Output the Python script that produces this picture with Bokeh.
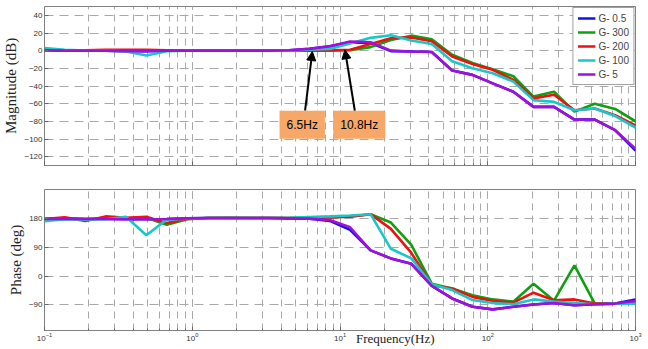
from bokeh.plotting import figure
from bokeh.layouts import column
from bokeh.models import Range1d, FixedTicker, Label, Arrow, NormalHead, Legend, LegendItem
from bokeh.embed import file_html
from bokeh.resources import INLINE

freqs = [0.1, 0.137, 0.189, 0.259, 0.356, 0.489, 0.672, 0.924, 1.27, 1.74,
         2.39, 3.29, 4.52, 6.21, 8.53, 11.7, 16.1, 22.1, 30.4, 41.8,
         57.4, 78.8, 108, 149, 204, 281, 386, 530, 728, 1000]

series_names = ["G- 0.5", "G- 300", "G- 200", "G- 100", "G- 5"]
series_colors = ["#1010F0", "#0EA00E", "#F01010", "#18C8C8", "#A010D8"]

mag_g05 = [0.5, 0, 0, 0, -0.5, -0.5, 0, 0, 0, 0, 0, 0, 0.5, 2, 5, 9.5, 8.5, -0.5, -1, -1.5,
           -22.5, -27.4, -37, -46.5, -63.6, -63.6, -78, -78, -90, -113]
mag_g300 = [1, 0.5, 0, 0, 0.5, 0.5, 0, 0, 0, 0, 0, 0, 0, 0, 0, 0.5, 4, 12, 17, 13,
            -4.6, -14, -21, -29, -52, -46.5, -69, -60, -66, -80]
mag_g200 = [1, 0.5, 0.5, 1, 1, 1, 0.5, 0, 0, 0, 0, 0, 0, 0, 0.5, 1, 7.5, 14, 15, 10.6,
            -6.5, -15, -21.7, -33, -54, -50, -67.4, -65.5, -73, -84.6]
mag_g100 = [3, 1, 0, 0, -1, -5.5, -0.5, 0, 0, 0, 0, 0, 0, 1, 2, 8, 14.5, 17.5, 11.5, 7.5,
            -12, -20, -25.5, -35, -56, -58, -67.4, -65.5, -74, -87]
mag_g5 = [0.5, 0, 0, 0, -0.5, -0.5, 0, 0, 0, 0, 0, 0, 0.5, 2, 5, 10.3, 9.5, 0, -1, -1.5,
          -22.5, -27.4, -37, -46.5, -63.6, -63.6, -78, -78, -90, -111]

ph_g05 = [178, 179, 178, 178, 177, 177, 178, 180, 181, 181, 181, 181, 180, 179, 172, 144, 80, 55, 38, -31,
          -70, -96, -104, -96, -89, -84, -91, -88, -86, -73]
ph_g300 = [178, 180, 178, 181, 180, 182, 160, 177, 181, 182, 181, 181, 181, 182, 184, 186, 193, 167, 97, -24,
           -39, -60, -73, -80, -24, -77, 33, -86, -86, -84]
ph_g200 = [178, 183, 172, 186, 182, 185, 165, 178, 181, 181, 181, 181, 181, 182, 183, 185, 193, 147, 72, -29,
           -39, -65, -78, -83, -52, -75.5, -73, -86, -86, -80]
ph_g100 = [171, 177, 176, 177, 185, 127, 176, 179, 181, 181, 181, 181, 182, 184, 186, 189, 193, 85, 55, -26,
           -44, -75, -84, -88, -73, -80, -84, -88, -86, -86]
ph_g5 = [178, 179, 178, 178, 177, 177, 178, 180, 181, 181, 181, 181, 180, 179, 175, 152, 80, 55, 38, -31,
         -70, -96, -104, -96, -89, -84, -91, -88, -86, -78]

mag_series = [mag_g05, mag_g300, mag_g200, mag_g100, mag_g5]
ph_series = [ph_g05, ph_g300, ph_g200, ph_g100, ph_g5]

mag_ticks = [40, 20, 0, -20, -40, -60, -80, -100, -120]
ph_ticks = [180, 90, 0, -90]

ann_labels = ["6.5Hz", "10.8Hz"]
ann_freqs = [6.5, 10.8]

GRID = "#a8a8a8"


def style(p, ylabel, ticks):
    p.outline_line_color = "#808080"
    p.outline_line_width = 1
    p.yaxis.ticker = FixedTicker(ticks=ticks)
    for ax in (p.xaxis[0], p.yaxis[0]):
        ax.axis_line_color = None
        ax.major_tick_in = 4
        ax.major_tick_out = 0
        ax.minor_tick_in = 2
        ax.minor_tick_out = 0
        ax.major_tick_line_color = "#666666"
        ax.minor_tick_line_color = "#666666"
        ax.major_label_text_font = "Liberation Sans"
        ax.major_label_text_font_size = "8px"
        ax.major_label_text_color = "#333333"
        ax.major_label_standoff = 2
    p.yaxis.axis_label = ylabel
    p.yaxis.axis_label_text_font = "Liberation Serif"
    p.yaxis.axis_label_text_font_size = "15px"
    p.yaxis.axis_label_text_font_style = "normal"
    p.yaxis.axis_label_text_color = "#222222"
    p.yaxis.axis_label_standoff = 2
    p.yaxis.minor_tick_line_color = None
    p.xgrid.grid_line_color = GRID
    p.xgrid.grid_line_dash = "7 5"
    p.xgrid.minor_grid_line_color = GRID
    p.xgrid.minor_grid_line_dash = "7 5"
    p.ygrid.grid_line_color = GRID
    p.ygrid.grid_line_dash = "9 6"


top = figure(width=648, height=180, x_axis_type="log",
             x_range=Range1d(0.1, 1000), y_range=Range1d(-130, 50),
             output_backend="svg", toolbar_location=None,
             min_border_left=44, min_border_right=13, min_border_top=6, min_border_bottom=15)
style(top, "Magnitude (dB)", mag_ticks)
top.xaxis.major_label_text_color = None

items = []
for name, col, ys in zip(series_names, series_colors, mag_series):
    r = top.line(freqs, ys, line_color=col, line_width=2.6)
    items.append(LegendItem(label=name, renderers=[r]))

leg = Legend(items=items, location="top_right")
leg.label_text_font = "Liberation Sans"
leg.label_text_font_size = "10px"
leg.label_height = 12
leg.glyph_height = 12
leg.glyph_width = 18
leg.spacing = 2
leg.padding = 4
leg.margin = 1
leg.label_standoff = 3
leg.border_line_color = "#444444"
leg.background_fill_alpha = 1
top.add_layout(leg)

ann_tail_y = -68
ann_tip_y = [-1, 1]
ann_tail_x = [5.8, 12.6]
for lab, f, tx, ty in zip(ann_labels, ann_freqs, ann_tail_x, ann_tip_y):
    top.add_layout(Arrow(end=NormalHead(size=9, fill_color="black", line_color="black"),
                         x_start=tx, y_start=ann_tail_y, x_end=f, y_end=ty,
                         line_color="black", line_width=2))
lab_x = [5.55, 13.5]
for lab, lx in zip(ann_labels, lab_x):
    top.add_layout(Label(x=lx, y=-84, text=lab, text_align="center", text_baseline="middle",
                         text_font="Liberation Sans", text_font_size="12px", text_color="black",
                         background_fill_color="#F7A868", background_fill_alpha=1,
                         padding=7))

bot = figure(width=648, height=169, x_axis_type="log",
             x_range=Range1d(0.1, 1000), y_range=Range1d(-170, 270),
             output_backend="svg", toolbar_location=None,
             min_border_left=44, min_border_right=13, min_border_top=9, min_border_bottom=19)
style(bot, "Phase (deg)", ph_ticks)
for name, col, ys in zip(series_names, series_colors, ph_series):
    bot.line(freqs, ys, line_color=col, line_width=2.6)

bot.xaxis.axis_label = "\u00a0" * 34 + "Frequency(Hz)"
bot.xaxis.axis_label_standoff = -13
bot.xaxis.axis_label_text_font = "Liberation Serif"
bot.xaxis.axis_label_text_font_size = "13px"
bot.xaxis.axis_label_text_font_style = "normal"
bot.xaxis.axis_label_text_color = "#222222"

layout = column(top, bot, spacing=0)
open("out.html", "w").write(file_html(layout, INLINE))
